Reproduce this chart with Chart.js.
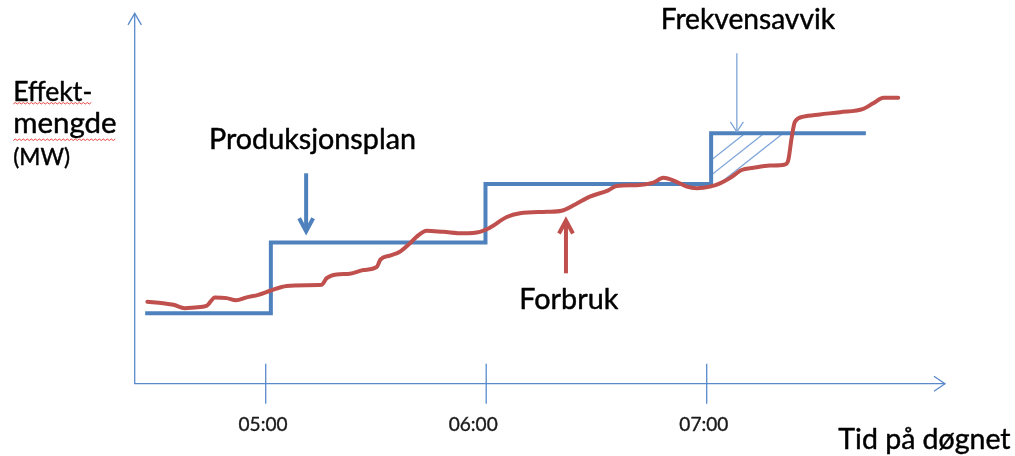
<!DOCTYPE html>
<html><head><meta charset="utf-8">
<script src="https://cdn.jsdelivr.net/npm/chart.js@4.4.1/dist/chart.umd.min.js"></script>
<style>html,body{margin:0;padding:0;background:#fff;overflow:hidden}#wrap{width:1015px;height:456px;position:relative}</style>
</head><body><div id="wrap"><canvas id="c" width="1015" height="456"></canvas></div>
<script>
// Time in minutes after midnight, power in arbitrary MW units
const planTimes  = [267.2, 301.4, 359.8, 421.2, 463.3];
const planValues = [19.0, 38.1, 53.9, 67.6, 67.6];

const useTimes = [267.8, 272.1, 274.9, 278.0, 280.8, 283.9, 286.2, 289.4, 291.9, 294.8,
  298.0, 301.2, 305.7, 311.2, 315.2, 316.6, 319.3, 322.9, 326.6, 330.2,
  331.2, 333.8, 336.5, 338.8, 341.1, 343.8, 348.3, 353.8, 358.3, 361.0,
  365.6, 369.2, 376.5, 380.5, 384.2, 388.2, 393.2, 395.5, 401.0, 405.5,
  408.2, 411.8, 414.6, 417.3, 420.9, 423.6, 426.3, 429.5, 432.7, 437.2,
  441.3, 442.2, 443.1, 444.0, 446.3, 450.8, 456.3, 462.6, 465.3, 468.1, 472.1];
const useValues = [22.1, 21.7, 21.3, 20.4, 20.6, 21.0, 23.3, 23.1, 22.5, 23.3,
  24.0, 25.1, 26.4, 26.6, 26.7, 28.5, 29.5, 29.7, 30.7, 31.5,
  33.5, 34.6, 35.6, 37.5, 39.7, 41.3, 41.0, 40.6, 41.0, 42.1,
  45.0, 46.0, 46.4, 46.7, 48.4, 50.5, 52.2, 53.4, 53.6, 54.3,
  55.6, 54.5, 53.2, 52.8, 53.2, 54.1, 55.5, 57.7, 58.3, 58.9,
  59.2, 60.4, 66.3, 70.7, 72.1, 72.7, 73.3, 74.2, 75.7, 77.2, 77.2];

const tickValues = [300, 360, 420];
const tickLabels = ['05:00', '06:00', '07:00'];

const xRange = [264.35, 484.84];
const yRange = [0, 100];

// annotation anchors (data coordinates)
const planArrow = {x: 311.0, from: 56.8, to: 40.6};
const useArrow  = {x: 381.7, from: 29.8, to: 44.6};
const devArrow  = {x: 428.2, from: 89.2, to: 68.0};

const FONT = 'Lato, "Open Sans", sans-serif';
const BLUE = '#4F81BD', RED = '#C0504D', AXIS = '#5A8ACB', LIGHT = '#7EA5D8';
const tickLabelShift = [-2.7, -13, -2.9];

function fit(ctx, text, w) {
  ctx.font = '100px ' + FONT;
  return 100 * w / ctx.measureText(text).width;
}
function chevron(ctx, x, y, dx, dy, back, spread) {
  const px = -dy, py = dx;
  ctx.beginPath();
  ctx.moveTo(x - dx * back + px * spread, y - dy * back + py * spread);
  ctx.lineTo(x, y);
  ctx.lineTo(x - dx * back - px * spread, y - dy * back - py * spread);
  ctx.stroke();
}
function squiggle(ctx, x0, x1, y) {
  ctx.save();
  ctx.strokeStyle = '#E8413C'; ctx.lineWidth = 1;
  ctx.beginPath();
  let up = true;
  ctx.moveTo(x0, y);
  for (let x = x0 + 2; x <= x1; x += 2) { ctx.lineTo(x, up ? y - 1.5 : y); up = !up; }
  ctx.stroke();
  ctx.restore();
}
function text(ctx, t, x, y) {
  ctx.fillText(t, x, y);
  ctx.strokeText(t, x, y);
}

const decor = {
  id: 'decor',
  beforeDatasetsDraw(chart) {
    const ctx = chart.ctx, xs = chart.scales.x, ys = chart.scales.y, a = chart.chartArea;
    ctx.save();
    ctx.strokeStyle = AXIS; ctx.lineWidth = 1.3; ctx.lineCap = 'butt';
    ctx.beginPath();
    ctx.moveTo(a.left, a.top); ctx.lineTo(a.left, a.bottom); ctx.lineTo(a.right, a.bottom);
    ctx.stroke();
    chevron(ctx, a.left, a.top, 0, -1, 11.5, 6.7);
    chevron(ctx, a.right, a.bottom, 1, 0, 11, 7.5);
    tickValues.forEach(v => {
      const x = xs.getPixelForValue(v);
      ctx.beginPath(); ctx.moveTo(x, a.bottom - 20); ctx.lineTo(x, a.bottom + 20); ctx.stroke();
    });
    // hatched deviation area between plan and consumption
    const meta = chart.getDatasetMeta(0);
    const x0 = xs.getPixelForValue(planTimes[3]);
    const yTop = ys.getPixelForValue(planValues[3]);
    ctx.save();
    ctx.beginPath(); ctx.rect(x0, yTop, a.right - x0, a.bottom - yTop); ctx.clip();
    ctx.beginPath();
    ctx.moveTo(meta.data[0].x, a.top);
    meta.data.forEach(p => ctx.lineTo(p.x, p.y));
    ctx.lineTo(meta.data[meta.data.length - 1].x, a.top);
    ctx.closePath(); ctx.clip();
    ctx.strokeStyle = LIGHT; ctx.lineWidth = 1.3;
    [34, 53, 72].forEach(off => {
      const tx = x0 + off;
      ctx.beginPath();
      ctx.moveTo(tx + 10, yTop - 7.9);
      ctx.lineTo(tx - 80, yTop + 80 * 0.79);
      ctx.stroke();
    });
    ctx.restore();
    ctx.restore();
  },
  afterDatasetsDraw(chart) {
    const ctx = chart.ctx, xs = chart.scales.x, ys = chart.scales.y;
    ctx.save();
    ctx.lineCap = 'butt'; ctx.lineJoin = 'miter';
    let x = xs.getPixelForValue(planArrow.x);
    ctx.strokeStyle = BLUE; ctx.lineWidth = 4;
    ctx.beginPath(); ctx.moveTo(x, ys.getPixelForValue(planArrow.from)); ctx.lineTo(x, ys.getPixelForValue(planArrow.to) - 2); ctx.stroke();
    chevron(ctx, x, ys.getPixelForValue(planArrow.to) - 2, 0, 1, 13, 7);
    x = xs.getPixelForValue(useArrow.x);
    ctx.strokeStyle = RED;
    ctx.beginPath(); ctx.moveTo(x, ys.getPixelForValue(useArrow.from)); ctx.lineTo(x, ys.getPixelForValue(useArrow.to) + 2); ctx.stroke();
    chevron(ctx, x, ys.getPixelForValue(useArrow.to) + 2, 0, -1, 13, 7);
    x = xs.getPixelForValue(devArrow.x);
    ctx.strokeStyle = LIGHT; ctx.lineWidth = 1.3;
    ctx.beginPath(); ctx.moveTo(x, ys.getPixelForValue(devArrow.from)); ctx.lineTo(x, ys.getPixelForValue(devArrow.to)); ctx.stroke();
    chevron(ctx, x, ys.getPixelForValue(devArrow.to), 0, 1, 10, 6.5);

    // tick labels
    ctx.lineJoin = 'round';
    const ts = fit(ctx, tickLabels[0], 49);
    ctx.font = ts + 'px ' + FONT; ctx.fillStyle = '#1a1a1a'; ctx.strokeStyle = '#1a1a1a'; ctx.lineWidth = 0.35;
    ctx.textAlign = 'center'; ctx.textBaseline = 'alphabetic';
    tickValues.forEach((v, i) => text(ctx, tickLabels[i], xs.getPixelForValue(v) + tickLabelShift[i], 430.7));

    // texts
    ctx.textAlign = 'left'; ctx.fillStyle = '#000'; ctx.strokeStyle = '#000'; ctx.lineWidth = 0.45;
    const labels = [
      {t: 'Effekt-', x: 13.3, y: 100.8, w: 79},
      {t: 'mengde', x: 13.3, y: 133.3, w: 103.4},
      {t: '(MW)', x: 13.3, y: 165, w: 56.7},
      {t: 'Produksjonsplan', x: 209, y: 149.3, w: 207},
      {t: 'Frekvensavvik', x: 660.7, y: 29.3, w: 174.3},
      {t: 'Forbruk', x: 519.3, y: 309.3, w: 99},
      {t: 'Tid på døgnet', x: 838.3, y: 449.3, w: 172.4}
    ];
    labels.forEach(l => {
      const s = fit(ctx, l.t, l.w);
      ctx.font = s + 'px ' + FONT;
      text(ctx, l.t, l.x, l.y);
    });
    squiggle(ctx, 13.3, 92.3, 104);
    squiggle(ctx, 13.3, 116.7, 140.5);
    ctx.restore();
  }
};

new Chart(document.getElementById('c'), {
  type: 'line',
  data: {
    datasets: [
      {
        label: 'Forbruk',
        data: useTimes.map((t, i) => ({x: t, y: useValues[i]})),
        borderColor: RED, borderWidth: 4, pointRadius: 0,
        cubicInterpolationMode: 'monotone', borderCapStyle: 'round', borderJoinStyle: 'round',
        fill: false
      },
      {
        label: 'Produksjonsplan',
        data: planTimes.map((t, i) => ({x: t, y: planValues[i]})),
        borderColor: BLUE, borderWidth: 4, pointRadius: 0,
        stepped: true, borderCapStyle: 'butt', borderJoinStyle: 'miter',
        fill: false
      }
    ]
  },
  options: {
    responsive: false,
    devicePixelRatio: 1,
    animation: false,
    events: [],
    layout: {padding: {left: 134.7, top: 13.3, right: 70, bottom: 72.3}},
    plugins: {legend: {display: false}, tooltip: {enabled: false}},
    scales: {
      x: {type: 'linear', min: xRange[0], max: xRange[1], display: false},
      y: {type: 'linear', min: yRange[0], max: yRange[1], display: false}
    }
  },
  plugins: [decor]
});
</script>
</body></html>
